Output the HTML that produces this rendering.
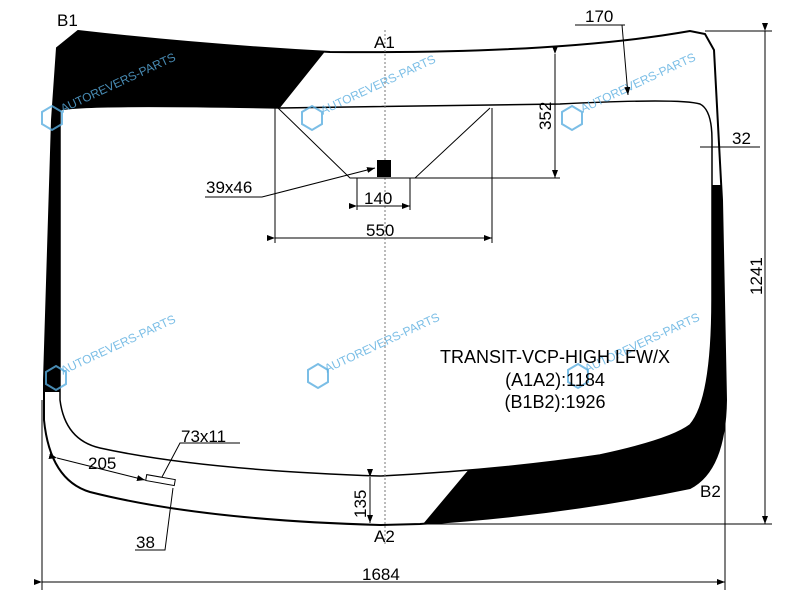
<!DOCTYPE html>
<html><head><meta charset="utf-8"><style>
html,body{margin:0;padding:0;background:#fff;}
svg{display:block;font-family:"Liberation Sans","DejaVu Sans",sans-serif;}
</style></head><body>
<svg width="800" height="600" viewBox="0 0 800 600" xmlns="http://www.w3.org/2000/svg">
<defs>
<marker id="ar" markerWidth="8" markerHeight="6" refX="8" refY="3" orient="auto" markerUnits="userSpaceOnUse"><path d="M0,0 L8,3 L0,6 Z" fill="#000"/></marker>
</defs>
<path fill="#000" fill-rule="evenodd" d="M57,48 L78,31 Q200,45 330,52 Q560,54 690,31 L705,34 L714,50 L722,200 L726,400 Q725,470 690,488 Q560,515 420,524 L380,525 Q200,520 90,492 Q50,480 44,420 L44,380 L52,120 Z
M60,110 Q80,104 280,108 L560,104 Q680,98 700,104 Q712,110 712,140 L712,300 Q712,400 690,425 Q670,440 600,455 Q500,470 380,476 Q200,470 100,448 Q65,440 60,400 Z"/>
<path fill="#fff" d="M279,109 L327,49 L330,30 L740,10 L740,185 L708,185 L706,109 Z"/>
<path fill="#fff" d="M20,392 L470,392 L470,468 L418,530 L20,530 Z"/>
<path fill="none" stroke="#000" stroke-width="2" d="M57,48 L78,31 Q200,45 330,52 Q560,54 690,31 L705,34 L714,50 L722,200 L726,400 Q725,470 690,488 Q560,515 420,524 L380,525 Q200,520 90,492 Q50,480 44,420 L44,380 L52,120 Z"/>
<path fill="none" stroke="#000" stroke-width="1.5" d="M60,110 Q80,104 280,108 L560,104 Q680,98 700,104 Q712,110 712,140 L712,300 Q712,400 690,425 Q670,440 600,455 Q500,470 380,476 Q200,470 100,448 Q65,440 60,400 Z"/>
<g fill="#5aaee0" font-size="12" opacity="0.8">
<g transform="translate(52,118) rotate(-25)"><text x="12" y="0">AUTOREVERS-PARTS</text></g>
<g transform="translate(312,120) rotate(-25)"><text x="12" y="0">AUTOREVERS-PARTS</text></g>
<g transform="translate(572,118) rotate(-25)"><text x="12" y="0">AUTOREVERS-PARTS</text></g>
<g transform="translate(52,380) rotate(-25)"><text x="12" y="0">AUTOREVERS-PARTS</text></g>
<g transform="translate(316,378) rotate(-25)"><text x="12" y="0">AUTOREVERS-PARTS</text></g>
<g transform="translate(576,378) rotate(-25)"><text x="12" y="0">AUTOREVERS-PARTS</text></g>
</g>
<g fill="none" stroke="#5aaee0" stroke-width="2" opacity="0.8">
<polygon points="52,106 62,112 62,124 52,130 42,124 42,112"/>
<polygon points="312,106 322,112 322,124 312,130 302,124 302,112"/>
<polygon points="572,106 582,112 582,124 572,130 562,124 562,112"/>
<polygon points="56,366 66,372 66,384 56,390 46,384 46,372"/>
<polygon points="318,364 328,370 328,382 318,388 308,382 308,370"/>
<polygon points="578,364 588,370 588,382 578,388 568,382 568,370"/>
</g>
<line x1="385" y1="30" x2="385" y2="545" stroke="#777" stroke-width="1" stroke-dasharray="2,2"/>
<g stroke="#000" stroke-width="1" fill="none">
<polyline points="278,108 350,178 415,178 490,108"/>
<line x1="410" y1="178" x2="560" y2="178"/>
<line x1="555" y1="54" x2="555" y2="178" marker-start="url(#ar)" marker-end="url(#ar)"/>
<line x1="575" y1="25" x2="625" y2="25"/>
<line x1="622" y1="25" x2="628" y2="95" marker-end="url(#ar)"/>
<line x1="700" y1="147" x2="760" y2="147"/>
<line x1="705" y1="31" x2="772" y2="31"/>
<line x1="420" y1="524" x2="772" y2="524"/>
<line x1="765" y1="31" x2="765" y2="524" marker-start="url(#ar)" marker-end="url(#ar)"/>
<line x1="42" y1="400" x2="42" y2="590"/>
<line x1="725" y1="410" x2="725" y2="590"/>
<line x1="42" y1="582" x2="725" y2="582" marker-start="url(#ar)" marker-end="url(#ar)"/>
<line x1="275" y1="108" x2="275" y2="243"/>
<line x1="492" y1="108" x2="492" y2="243"/>
<line x1="275" y1="238" x2="492" y2="238" marker-start="url(#ar)" marker-end="url(#ar)"/>
<line x1="357" y1="178" x2="357" y2="210"/>
<line x1="410" y1="178" x2="410" y2="210"/>
<line x1="357" y1="206" x2="410" y2="206" marker-start="url(#ar)" marker-end="url(#ar)"/>
<polyline points="205,197 262,197 375,168" marker-end="url(#ar)"/>
<line x1="370" y1="477" x2="370" y2="523" marker-start="url(#ar)" marker-end="url(#ar)"/>
<line x1="57" y1="458" x2="145" y2="480" marker-start="url(#ar)" marker-end="url(#ar)"/>
<polyline points="240,443 180,443 162,477"/>
<polyline points="135,550 165,550 173,488"/>
</g>
<rect x="377" y="160" width="14" height="17" fill="#000"/>
<rect x="146" y="477" width="29" height="6" fill="#fff" stroke="#000" stroke-width="1" transform="rotate(10 160 480)"/>
<g font-size="17" fill="#000">
<text x="57" y="26">B1</text>
<text x="374" y="48">A1</text>
<text x="374" y="542">A2</text>
<text x="700" y="497">B2</text>
<text x="585" y="22">170</text>
<text x="732" y="144">32</text>
<text x="206" y="193">39x46</text>
<text x="364" y="204">140</text>
<text x="366" y="236">550</text>
<text x="181" y="442">73x11</text>
<text x="88" y="469">205</text>
<text x="136" y="548">38</text>
<text x="362" y="580">1684</text>
<text transform="translate(551,130) rotate(-90)">352</text>
<text transform="translate(366,518) rotate(-90)">135</text>
<text transform="translate(762,295) rotate(-90)">1241</text>
</g>
<g font-size="18" fill="#000" text-anchor="middle">
<text x="555" y="363">TRANSIT-VCP-HIGH LFW/X</text>
<text x="555" y="386">(A1A2):1184</text>
<text x="555" y="408">(B1B2):1926</text>
</g>
</svg>
</body></html>
